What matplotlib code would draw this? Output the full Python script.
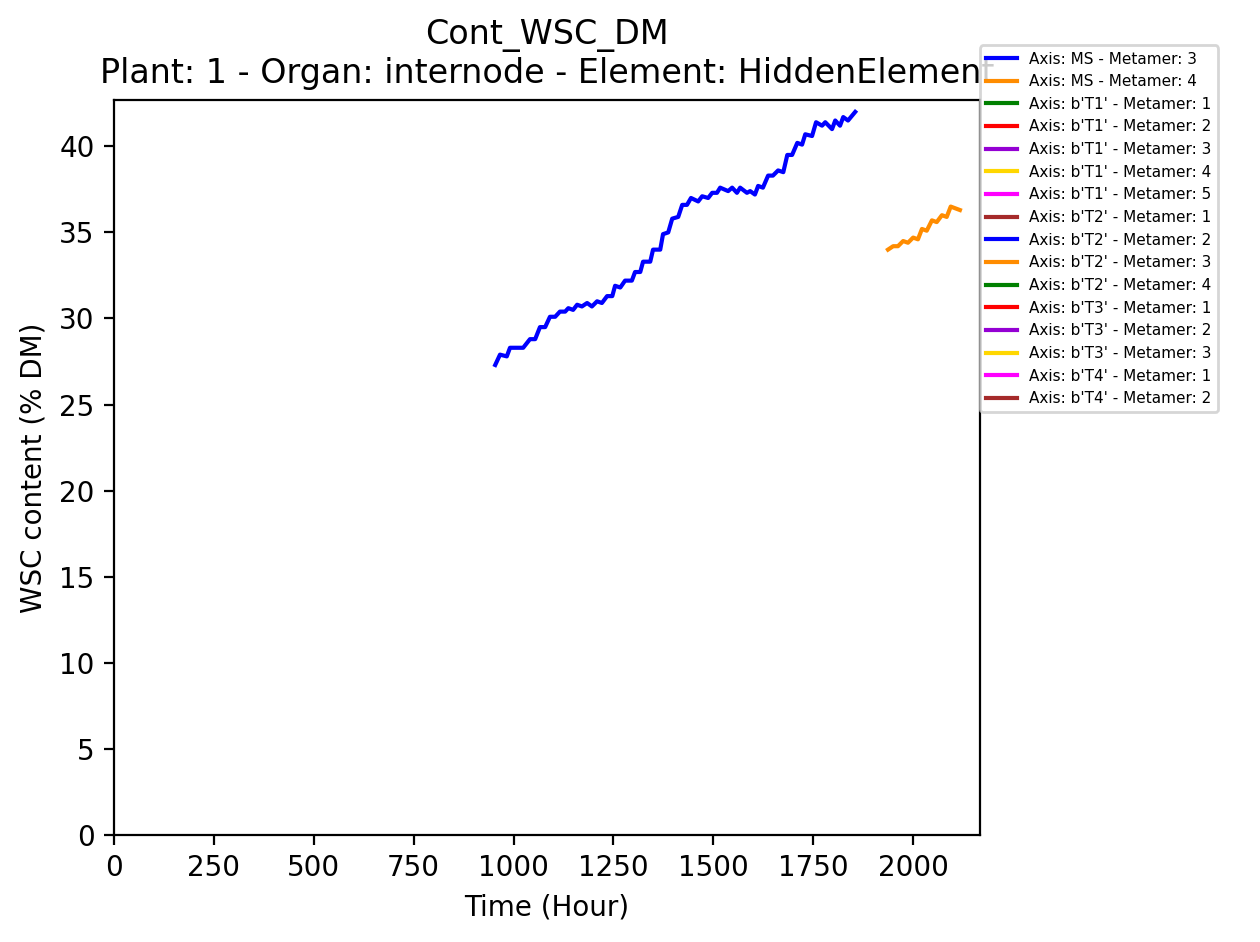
import matplotlib
matplotlib.use("Agg")
import matplotlib.pyplot as plt

# Axis MS - Metamer 3
t_ms3 = [954, 966, 983, 991, 1009, 1024, 1041, 1054, 1066, 1079, 1091, 1104, 1116, 1129,
         1137, 1149, 1159, 1171, 1184, 1196, 1209, 1221, 1234, 1247, 1254, 1267, 1279, 1296,
         1304, 1317, 1324, 1342, 1349, 1367, 1374, 1387, 1397, 1412, 1422, 1434, 1444, 1462,
         1472, 1487, 1497, 1509, 1517, 1537, 1547, 1559, 1567, 1584, 1592, 1604, 1612, 1624,
         1637, 1649, 1662, 1675, 1685, 1697, 1710, 1722, 1730, 1747, 1757, 1772, 1780, 1797,
         1805, 1817, 1825, 1837, 1855]
v_ms3 = [27.3, 27.9, 27.8, 28.3, 28.3, 28.3, 28.8, 28.8, 29.5, 29.5, 30.1, 30.1, 30.4, 30.4,
         30.6, 30.5, 30.8, 30.7, 30.9, 30.7, 31.0, 30.9, 31.3, 31.3, 31.9, 31.8, 32.2, 32.2,
         32.7, 32.7, 33.3, 33.3, 34.0, 34.0, 34.9, 35.0, 35.8, 35.9, 36.6, 36.6, 37.0, 36.8,
         37.1, 37.0, 37.3, 37.3, 37.6, 37.4, 37.6, 37.3, 37.6, 37.3, 37.4, 37.2, 37.7, 37.6,
         38.3, 38.3, 38.6, 38.5, 39.5, 39.5, 40.2, 40.1, 40.7, 40.6, 41.4, 41.2, 41.4, 41.0,
         41.5, 41.2, 41.7, 41.5, 42.0]

# Axis MS - Metamer 4
t_ms4 = [1937, 1950, 1962, 1975, 1987, 2000, 2012, 2022, 2034, 2047, 2059, 2072, 2084, 2094, 2117]
v_ms4 = [34.0, 34.2, 34.2, 34.5, 34.4, 34.7, 34.6, 35.2, 35.1, 35.7, 35.6, 36.0, 35.9, 36.5, 36.3]

labels = ["Axis: MS - Metamer: 3", "Axis: MS - Metamer: 4",
          "Axis: b'T1' - Metamer: 1", "Axis: b'T1' - Metamer: 2", "Axis: b'T1' - Metamer: 3",
          "Axis: b'T1' - Metamer: 4", "Axis: b'T1' - Metamer: 5",
          "Axis: b'T2' - Metamer: 1", "Axis: b'T2' - Metamer: 2", "Axis: b'T2' - Metamer: 3",
          "Axis: b'T2' - Metamer: 4",
          "Axis: b'T3' - Metamer: 1", "Axis: b'T3' - Metamer: 2", "Axis: b'T3' - Metamer: 3",
          "Axis: b'T4' - Metamer: 1", "Axis: b'T4' - Metamer: 2"]
colours = ['blue', 'darkorange', 'green', 'red', 'darkviolet', 'gold', 'magenta', 'brown']

fig = plt.figure(figsize=(6.3, 4.71), dpi=200)
ax = fig.add_axes([0.0905, 0.1136, 0.6875, 0.7804])

series = {0: (t_ms3, v_ms3), 1: (t_ms4, v_ms4)}
for i, lab in enumerate(labels):
    t, v = series.get(i, ([], []))
    ax.plot(t, v, color=colours[i % len(colours)], label=lab)

ax.set_xlim(0, 2168)
ax.set_ylim(0, 42.7)
ax.set_xlabel("Time (Hour)")
ax.set_ylabel("WSC content (% DM)")
ax.set_title("Cont_WSC_DM\nPlant: 1 - Organ: internode - Element: HiddenElement")
ax.legend(loc='upper left', bbox_to_anchor=(1.0, 1.074), borderaxespad=0, fontsize=5.5)

fig.savefig("out.png", dpi=200)
